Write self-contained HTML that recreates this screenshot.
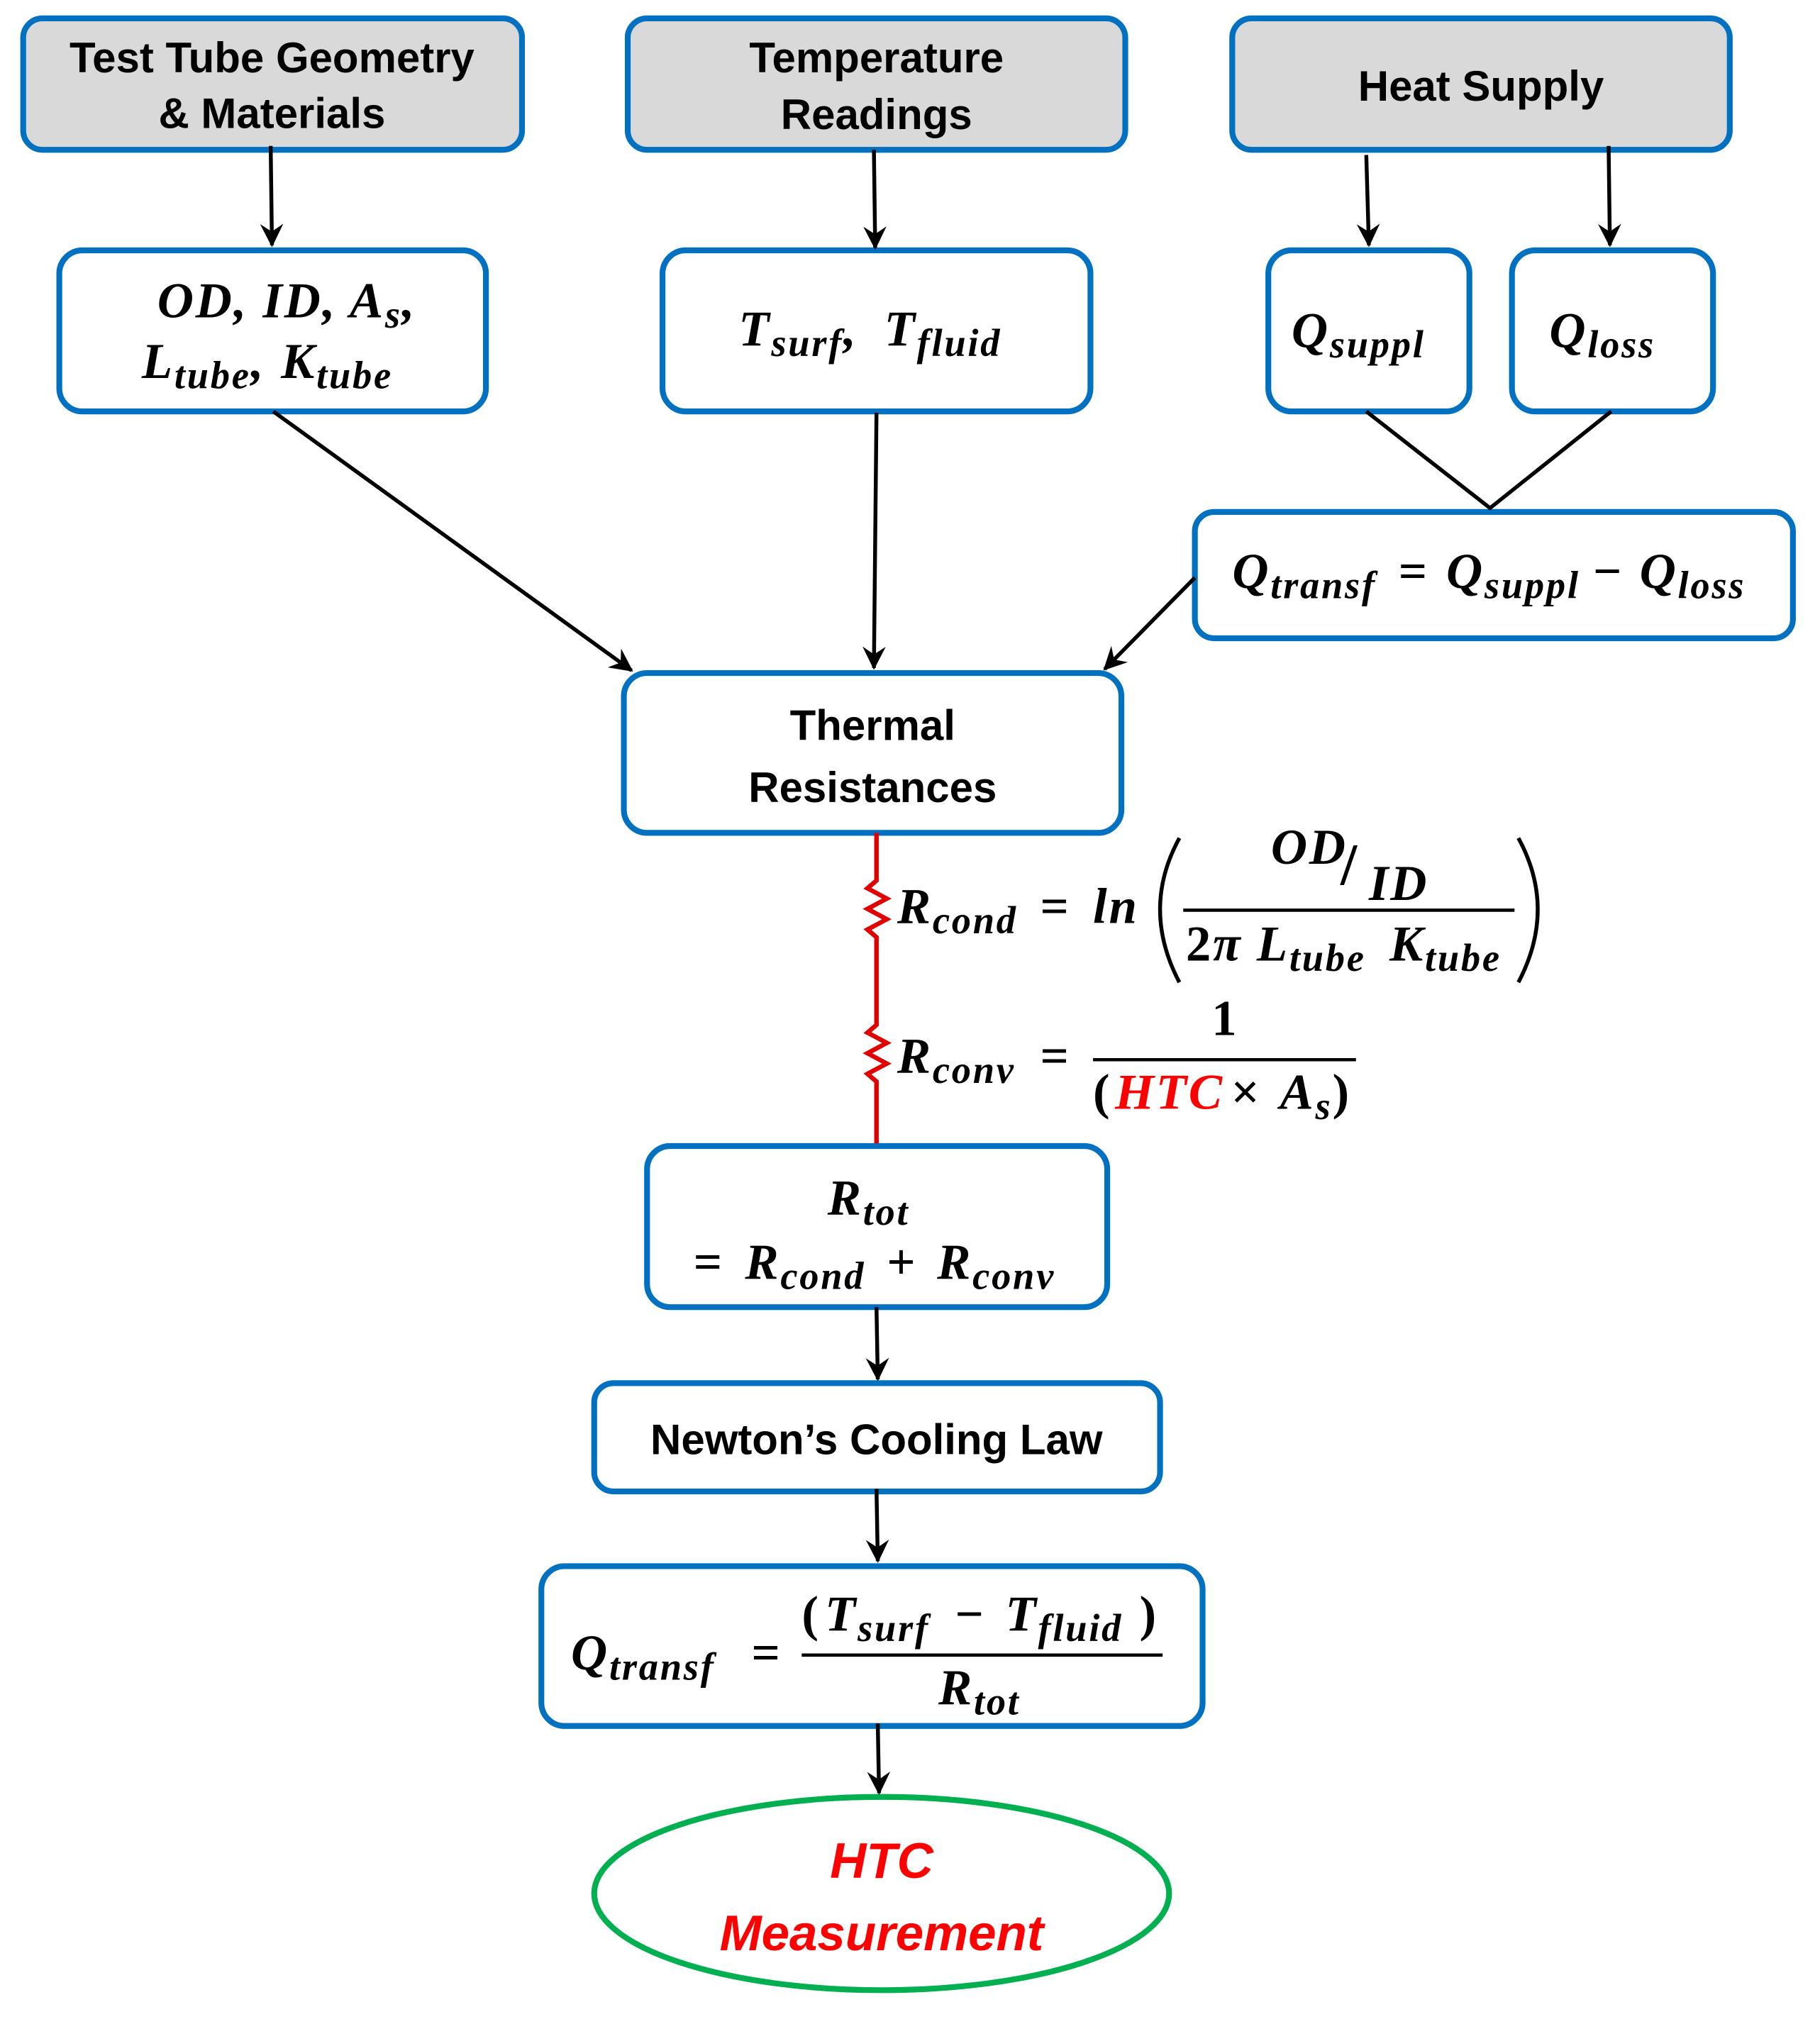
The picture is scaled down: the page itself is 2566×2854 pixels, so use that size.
<!DOCTYPE html>
<html><head><meta charset="utf-8"><style>
html,body{margin:0;padding:0;background:#fff;}
svg{display:block;}
.h{font-family:"Liberation Sans",sans-serif;font-weight:bold;font-size:33px;fill:#000;text-anchor:middle;}
.m{font-family:"Liberation Serif",serif;font-weight:bold;font-style:italic;font-size:39px;fill:#000;letter-spacing:1.5px;}
.s{font-size:30px;}
.n{font-style:normal;}
</style></head><body>
<svg width="2566" height="2854" viewBox="0 0 1412 1570" xmlns="http://www.w3.org/2000/svg">
<defs>
<marker id="b" viewBox="0 0 12 12" refX="11" refY="6" markerWidth="18" markerHeight="18" orient="auto" markerUnits="userSpaceOnUse"><path d="M0,0 L12,6 L0,12 L4,6 z" fill="#000"/></marker></defs>
<g stroke="#0070c0" stroke-width="4.5">
<rect x="18" y="14" width="387" height="102" rx="15" fill="#d9d9d9"/>
<rect x="487" y="14" width="386" height="102" rx="15" fill="#d9d9d9"/>
<rect x="956" y="14" width="386" height="102" rx="15" fill="#d9d9d9"/>
<rect x="46" y="194" width="331" height="125" rx="18" fill="#fff"/>
<rect x="514" y="194" width="332" height="125" rx="18" fill="#fff"/>
<rect x="984" y="194" width="156" height="125" rx="18" fill="#fff"/>
<rect x="1173" y="194" width="156" height="125" rx="18" fill="#fff"/>
<rect x="927" y="397" width="464" height="98" rx="15" fill="#fff"/>
<rect x="484" y="522" width="386" height="124" rx="18" fill="#fff"/>
<rect x="502" y="889" width="357" height="125" rx="18" fill="#fff"/>
<rect x="461" y="1073" width="439" height="84" rx="15" fill="#fff"/>
<rect x="420" y="1215" width="513" height="124" rx="18" fill="#fff"/>
</g>
<ellipse cx="684" cy="1469" rx="223" ry="75" fill="#fff" stroke="#00b050" stroke-width="4.5"/>
<g stroke="#000" stroke-width="3" fill="none">
<line x1="210" y1="113" x2="211" y2="190" marker-end="url(#b)"/>
<line x1="678" y1="116" x2="679" y2="192" marker-end="url(#b)"/>
<line x1="1060" y1="120" x2="1062" y2="190" marker-end="url(#b)"/>
<line x1="1248" y1="113" x2="1249" y2="190" marker-end="url(#b)"/>
<line x1="212" y1="319" x2="490" y2="520" marker-end="url(#b)"/>
<line x1="680" y1="320" x2="678" y2="518" marker-end="url(#b)"/>
<line x1="927" y1="448" x2="857" y2="519" marker-end="url(#b)"/>
<polyline points="1060,319 1156,394 1250,319"/>
<line x1="680" y1="1014" x2="681" y2="1070" marker-end="url(#b)"/>
<line x1="680" y1="1155" x2="681" y2="1211" marker-end="url(#b)"/>
<line x1="681" y1="1337" x2="682" y2="1391" marker-end="url(#b)"/>
</g>
<polyline fill="none" stroke="#e00000" stroke-width="3.5" points="680,646 680,683 673,689 688,697 673,705 688,713 673,721 680,727 680,795 673,801 688,809 673,817 688,825 673,833 680,839 680,887"/>
<text class="h" x="211" y="56">Test Tube Geometry</text>
<text class="h" x="211" y="99">&amp; Materials</text>
<text class="h" x="680" y="56">Temperature</text>
<text class="h" x="680" y="100">Readings</text>
<text class="h" x="1149" y="78">Heat Supply</text>
<text class="h" x="677" y="574">Thermal</text>
<text class="h" x="677" y="622">Resistances</text>
<text class="h" x="680" y="1128">Newton’s Cooling Law</text>
<text class="h" x="684" y="1457" style="fill:#ff0000;font-style:italic;font-size:39px">HTC</text>
<text class="h" x="684" y="1513" style="fill:#ff0000;font-style:italic;font-size:39px">Measurement</text>
<text class="m" x="122" y="246">OD, ID, A<tspan class="s" dy="8">s</tspan><tspan dy="-8">,</tspan></text>
<text class="m" x="110" y="293">L<tspan class="s" dy="8">tube</tspan><tspan dy="-8">,</tspan></text>
<text class="m" x="218" y="293">K<tspan class="s" dy="8">tube</tspan></text>
<text class="m" x="573" y="268">T<tspan class="s" dy="8">surf</tspan><tspan dy="-8">,</tspan></text>
<text class="m" x="686" y="268">T<tspan class="s" dy="8">fluid</tspan></text>
<text class="m" x="1002" y="269">Q<tspan class="s" dy="8">suppl</tspan></text>
<text class="m" x="1202" y="269">Q<tspan class="s" dy="8">loss</tspan></text>
<text class="m" x="956" y="456">Q<tspan class="s" dy="8">transf</tspan></text>
<text class="m n" x="1085" y="456">=</text>
<text class="m" x="1122" y="456">Q<tspan class="s" dy="8">suppl</tspan></text>
<text class="m n" x="1236" y="456">−</text>
<text class="m" x="1272" y="456">Q<tspan class="s" dy="8">loss</tspan></text>
<text class="m" x="696" y="716">R<tspan class="s" dy="8">cond</tspan></text>
<text class="m n" x="807" y="716">=</text>
<text class="m" x="848" y="716">ln</text>
<path d="M915,650 Q885,705 915,762" stroke="#000" stroke-width="3" fill="none"/>
<path d="M1178,650 Q1208,705 1178,762" stroke="#000" stroke-width="3" fill="none"/>
<text class="m" x="986" y="670">OD</text>
<text class="m n" x="1040" y="686" style="font-size:46px">/</text>
<text class="m" x="1062" y="698">ID</text>
<line x1="918" y1="706" x2="1175" y2="706" stroke="#000" stroke-width="2.5"/>
<text class="m" x="920" y="745"><tspan class="n">2</tspan>π L<tspan class="s" dy="8">tube</tspan></text>
<text class="m" x="1078" y="745">K<tspan class="s" dy="8">tube</tspan></text>
<text class="m" x="696" y="832">R<tspan class="s" dy="8">conv</tspan></text>
<text class="m n" x="807" y="832">=</text>
<text class="m n" x="940" y="803">1</text>
<line x1="848" y1="822" x2="1052" y2="822" stroke="#000" stroke-width="2.5"/>
<text class="m n" x="848" y="860">(</text>
<text class="m" x="865" y="860" style="fill:#ff0000">HTC</text>
<text class="m n" x="955" y="860">×</text>
<text class="m" x="993" y="860">A<tspan class="s" dy="8">s</tspan><tspan dy="-8" class="n">)</tspan></text>
<text class="m" x="642" y="942">R<tspan class="s" dy="8">tot</tspan></text>
<text class="m n" x="538" y="992">=</text>
<text class="m" x="578" y="992">R<tspan class="s" dy="8">cond</tspan></text>
<text class="m n" x="688" y="992">+</text>
<text class="m" x="727" y="992">R<tspan class="s" dy="8">conv</tspan></text>
<text class="m" x="443" y="1295">Q<tspan class="s" dy="8">transf</tspan></text>
<text class="m n" x="583" y="1295">=</text>
<text class="m n" x="622" y="1265">(</text>
<text class="m" x="640" y="1265">T<tspan class="s" dy="8">surf</tspan></text>
<text class="m n" x="741" y="1265">−</text>
<text class="m" x="780" y="1265">T<tspan class="s" dy="8">fluid</tspan></text>
<text class="m n" x="884" y="1265">)</text>
<line x1="622" y1="1284" x2="902" y2="1284" stroke="#000" stroke-width="2.5"/>
<text class="m" x="728" y="1322">R<tspan class="s" dy="8">tot</tspan></text>
</svg>
</body></html>
